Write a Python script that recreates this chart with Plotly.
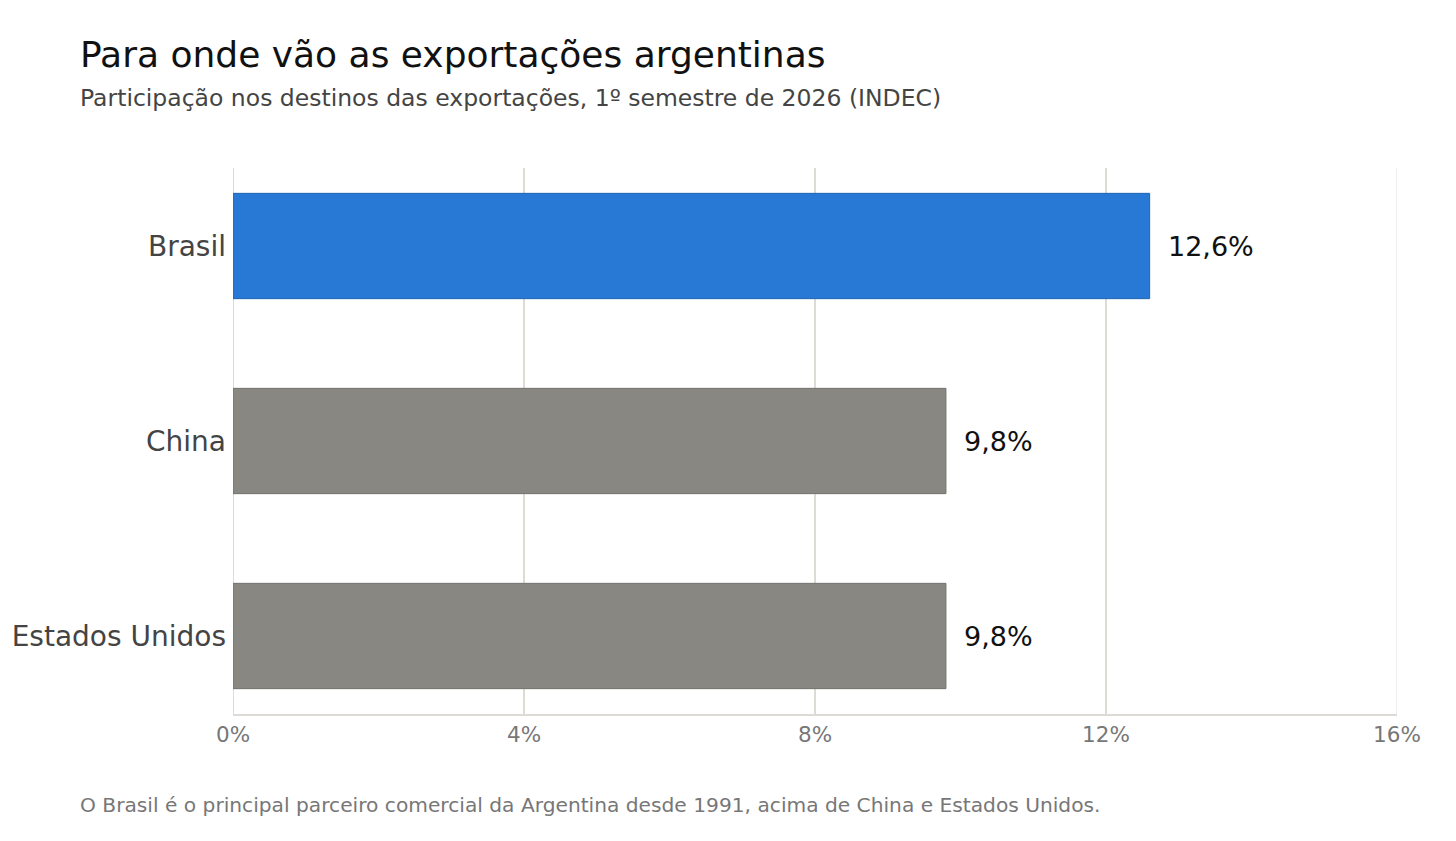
import plotly.graph_objects as go

# Data
destinos = ['Brasil', 'China', 'Estados Unidos']
participacao = [12.6, 9.8, 9.8]
cores = ['#2878d6', '#898781', '#898781']
bordas = ['#1f63b3', '#74726d', '#74726d']
tick_vals = [0, 4, 8, 12, 16]
tick_text = ['%d%%' % t for t in tick_vals]

titulo = 'Para onde vão as exportações argentinas'
subtitulo = 'Participação nos destinos das exportações, 1º semestre de 2026 (INDEC)'
rodape = 'O Brasil é o principal parceiro comercial da Argentina desde 1991, acima de China e Estados Unidos.'

# page body has an 8px offset, so the margins are shifted by it
OFF = 8
W, H = 1456, 841
ml, mt = 233 - OFF, 168 - OFF
plot_w, plot_h = 1164, 546
mr = W - ml - plot_w
mb = H - mt - plot_h

fig = go.Figure()
fig.add_trace(go.Bar(
    y=destinos, x=participacao, orientation='h',
    marker=dict(color=cores, line=dict(color=bordas, width=1)),
    width=0.54, hoverinfo='skip', showlegend=False,
))

# bar value labels
for d, v in zip(destinos, participacao):
    fig.add_annotation(x=v, y=d, xref='x', yref='y', text=('%.1f%%' % v).replace('.', ','),
                       showarrow=False, xanchor='left', yanchor='middle', xshift=16,
                       font=dict(size=27, color='#111111'))

def px_x(px):
    return (px - OFF - ml) / plot_w

def px_y(py):
    return (mt + plot_h - (py - OFF)) / plot_h

fig.add_annotation(x=px_x(78), y=px_y(54), xref='paper', yref='paper', text=titulo,
                   showarrow=False, xanchor='left', yanchor='middle',
                   font=dict(size=36, color='#111111'))
fig.add_annotation(x=px_x(78), y=px_y(98), xref='paper', yref='paper', text=subtitulo,
                   showarrow=False, xanchor='left', yanchor='middle',
                   font=dict(size=23.5, color='#444444'))
fig.add_annotation(x=px_x(78), y=px_y(805), xref='paper', yref='paper', text=rodape,
                   showarrow=False, xanchor='left', yanchor='middle',
                   font=dict(size=20.2, color='#777777'))

# light border line at the end of the axis
fig.add_vline(x=16, line=dict(color='#ebe9e5', width=1.5), layer='below')

fig.update_layout(
    width=W, height=H,
    margin=dict(l=ml, r=mr, t=mt, b=mb, autoexpand=False),
    paper_bgcolor='white', plot_bgcolor='white',
    font=dict(family='DejaVu Sans'),
    separators=',.',
)
fig.update_xaxes(range=[0, 16], tickvals=tick_vals, ticktext=tick_text,
                 showgrid=True, gridcolor='#dedbd6', gridwidth=2,
                 zeroline=True, zerolinecolor='#dedbd6', zerolinewidth=1,
                 showline=True, linecolor='#dedbd6', linewidth=2,
                 tickfont=dict(size=21.5, color='#777777'), ticks='', fixedrange=True)
fig.update_yaxes(range=[2.4, -0.4], autorange=False, showgrid=False, zeroline=False,
                 showline=False, ticks='', ticklabelstandoff=6,
                 tickfont=dict(size=28, color='#444444'), fixedrange=True)

fig.write_html('out.html')
